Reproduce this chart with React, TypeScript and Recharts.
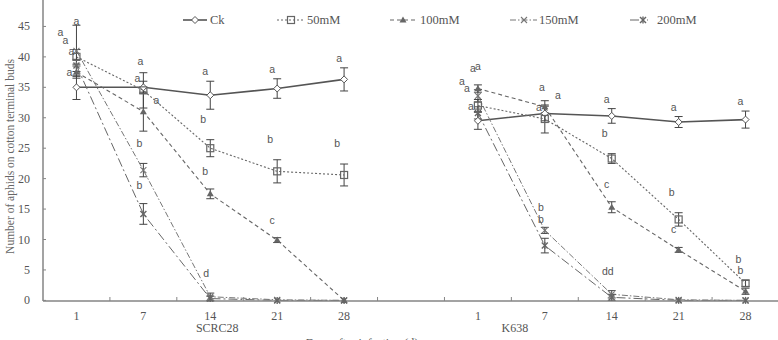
import React from "react";
import {
  ComposedChart,
  ErrorBar,
  LabelList,
  Line,
  XAxis,
  YAxis,
} from "recharts";

// x categories: two cultivars, 5 sampling days each, with an empty slot between
const days = ["1", "7", "14", "21", "28", "", "1", "7", "14", "21", "28"];
const cultivars = ["SCRC28", "K638"];
const countTicks = [0, 5, 10, 15, 20, 25, 30, 35, 40, 45, 50];

const ck = [35, 35, 33.7, 34.8, 36.3, null, 29.5, 30.7, 30.3, 29.3, 29.7];
const ckErr = [2, 1, 2.3, 1.6, 1.9, null, 1.4, 1.2, 1.2, 0.9, 1.4];
const ckSig = ["a", "a", "a", "a", "a", "", "a", "a", "a", "a", "a"];

const mM50 = [40, 34.5, 25, 21.2, 20.6, null, 32, 29.8, 23.3, 13.3, 2.8];
const mM50Err = [1.2, 2.9, 1.4, 1.9, 1.8, null, 1, 2.3, 0.8, 1.1, 0.5];
const mM50Sig = ["a", "a", "b", "b", "b", "", "a", "a", "b", "b", "b"];

const mM100 = [37.5, 31, 17.5, 9.9, 0, null, 34.8, 31.8, 15.3, 8.3, 1.5];
const mM100Err = [1, 3.2, 0.8, 0.4, null, null, 0.6, 1, 0.9, 0.4, 0.5];
const mM100Sig = ["a", "a", "b", "c", "", "", "a", "a", "c", "c", "b"];

const mM150 = [41, 21.4, 0.6, 0.1, 0, null, 33.6, 11.5, 1, 0.1, 0];
const mM150Err = [4.2, 1.1, 0.6, null, null, null, 1, 0.5, 0.6, null, null];
const mM150Sig = ["a", "b", "d", "", "", "", "a", "b", "dd", "", ""];

const mM200 = [38.6, 14.2, 0.3, 0, 0, null, 30.8, 9, 0.5, 0, 0];
const mM200Err = [1, 1.7, 0.4, null, null, null, 1, 1.2, 0.5, null, null];
const mM200Sig = ["a", "b", "", "", "", "", "a", "b", "", "", ""];

const data = days.map((day, i) => ({
  slot: `s${i}`,
  day,
  ck: ck[i],
  ckErr: ckErr[i],
  ckSig: ckSig[i],
  mM50: mM50[i],
  mM50Err: mM50Err[i],
  mM50Sig: mM50Sig[i],
  mM100: mM100[i],
  mM100Err: mM100Err[i],
  mM100Sig: mM100Sig[i],
  mM150: mM150[i],
  mM150Err: mM150Err[i],
  mM150Sig: mM150Sig[i],
  mM200: mM200[i],
  mM200Err: mM200Err[i],
  mM200Sig: mM200Sig[i],
}));

type Shape = "diamond" | "square" | "triangle" | "cross" | "star";
type Offset = [number, number];

// sig: letter offset [dx, gap above the error bar]
// day1 / day7: letter offset from the point itself on the crowded days
const series: {
  key: string;
  name: string;
  shape: Shape;
  dash?: string;
  width: number;
  color: string;
  errs: (number | null)[];
  sig: Offset;
  day1: Offset;
  day7?: Offset;
}[] = [
  { key: "ck", name: "Ck", shape: "diamond", width: 1.6, color: "#555", errs: ckErr, sig: [-5, 10], day1: [-7, -11], day7: [-3, -22] },
  { key: "mM50", name: "50mM", shape: "square", dash: "2 2", width: 1.1, color: "#666", errs: mM50Err, sig: [-7, 21], day1: [-16, -21], day7: [-6, -8] },
  { key: "mM100", name: "100mM", shape: "triangle", dash: "4 3", width: 1.1, color: "#666", errs: mM100Err, sig: [-5, 18], day1: [-5, -17], day7: [13, -8] },
  { key: "mM150", name: "150mM", shape: "cross", dash: "6 2 1.5 2", width: 1, color: "#777", errs: mM150Err, sig: [-4, 20], day1: [0, -26] },
  { key: "mM200", name: "200mM", shape: "star", dash: "9 3 2 3", width: 1, color: "#666", errs: mM200Err, sig: [-4, 19], day1: [-11, -21] },
];

const W = 790;
const H = 370;
const M = { top: 16, right: 11, bottom: 0, left: 0 };
const Y_W = 43;
const X_H = 49;
const PLOT_W = W - M.left - M.right - Y_W;
const PLOT_H = H - M.top - M.bottom - X_H;
const BAND = PLOT_W / days.length;
const PPU = PLOT_H / 50;

const AXIS = "#858585";
const TEXT = "#555";
const SERIF = "'Liberation Serif', 'Times New Roman', serif";
const SANS = "'Liberation Sans', Arial, sans-serif";

function Marker({ shape, cx, cy, color }: { shape: Shape; cx: number; cy: number; color: string }) {
  const r = 3.5;
  switch (shape) {
    case "diamond":
      return (
        <path
          d={`M${cx},${cy - r}L${cx + r},${cy}L${cx},${cy + r}L${cx - r},${cy}Z`}
          fill="#fff"
          stroke={color}
          strokeWidth={1}
        />
      );
    case "square":
      return (
        <rect x={cx - r} y={cy - r} width={r * 2} height={r * 2} fill="none" stroke={color} strokeWidth={1.2} />
      );
    case "triangle":
      return <path d={`M${cx},${cy - r}L${cx + r},${cy + 2.5}L${cx - r},${cy + 2.5}Z`} fill={color} />;
    case "cross":
      return (
        <g stroke={color} strokeWidth={1.1}>
          <line x1={cx - 3} y1={cy - 3} x2={cx + 3} y2={cy + 3} />
          <line x1={cx - 3} y1={cy + 3} x2={cx + 3} y2={cy - 3} />
        </g>
      );
    default:
      return (
        <g stroke={color} strokeWidth={1.4}>
          <line x1={cx - 3} y1={cy - 3} x2={cx + 3} y2={cy + 3} />
          <line x1={cx - 3} y1={cy + 3} x2={cx + 3} y2={cy - 3} />
          <line x1={cx} y1={cy - 3.5} x2={cx} y2={cy + 3.5} />
        </g>
      );
  }
}

function DayTick(props: any) {
  const { x, y, payload } = props;
  const i = payload.index;
  return (
    <g>
      <line x1={x + BAND / 2} x2={x + BAND / 2} y1={y} y2={y - 4} stroke={AXIS} strokeWidth={1} />
      <text x={x} y={y + 19} textAnchor="middle" fontFamily={SERIF} fontSize={12} fill={TEXT}>
        {days[i]}
      </text>
      {i === 2 && (
        <text x={x + 7} y={y + 31} textAnchor="middle" fontFamily={SERIF} fontSize={12} fill={TEXT}>
          {cultivars[0]}
        </text>
      )}
      {i === 6 && (
        <text x={x + 37} y={y + 31} textAnchor="middle" fontFamily={SERIF} fontSize={12} fill={TEXT}>
          {cultivars[1]}
        </text>
      )}
    </g>
  );
}

function CountTick(props: any) {
  const { x, y, payload } = props;
  return (
    <g>
      <line x1={x} x2={x + 3} y1={y} y2={y} stroke={AXIS} strokeWidth={1} />
      <text x={x - 13} y={y + 4} textAnchor="end" fontFamily={SERIF} fontSize={12} fill={TEXT}>
        {payload.value}
      </text>
    </g>
  );
}

// significance letters sit above the error bar, except where the points crowd
const sigLabel =
  (errs: (number | null)[], sig: Offset, day1: Offset, day7?: Offset) => (props: any) => {
    const x = props.x ?? props.viewBox?.x;
    const y = props.y ?? props.viewBox?.y;
    const { value, index } = props;
    if (!value || x == null || y == null) return null;
    const near = index === 0 || index === 6 ? day1 : (index === 1 || index === 7) && day7 ? day7 : null;
    const top = y - (errs[index] ?? 0) * PPU;
    return (
      <text
        x={near ? x + near[0] : x + sig[0]}
        y={near ? y + near[1] : top - sig[1] + 4}
        textAnchor="middle"
        fontFamily={SANS}
        fontSize={10.5}
        fill={TEXT}
        stroke="none"
      >
        {value}
      </text>
    );
  };

function LegendBar() {
  const items = [
    { x1: 183, x2: 207, mx: 195, tx: 210 },
    { x1: 277, x2: 305, mx: 291, tx: 307 },
    { x1: 390, x2: 415, mx: 403, tx: 420 },
    { x1: 510, x2: 537, mx: 524, tx: 539 },
    { x1: 630, x2: 648, mx: 643, tx: 657 },
  ];
  return (
    <svg width={778} height={34} style={{ position: "absolute", left: 0, top: 3 }}>
      {series.map((s, i) => {
        const it = items[i];
        return (
          <g key={s.key}>
            <line
              x1={it.x1}
              x2={it.x2}
              y1={17}
              y2={17}
              stroke={s.color}
              strokeWidth={s.width}
              strokeDasharray={s.dash}
            />
            <Marker shape={s.shape} cx={it.mx} cy={17} color={s.color} />
            <text x={it.tx} y={21} fontFamily={SERIF} fontSize={12.5} fill={TEXT}>
              {s.name}
            </text>
          </g>
        );
      })}
    </svg>
  );
}

export default function App() {
  return (
    <div
      style={{
        position: "absolute",
        left: 0,
        top: 0,
        width: 778,
        height: 340,
        overflow: "hidden",
        background: "#fff",
      }}
    >
      <div style={{ position: "absolute", left: 0, top: -20 }}>
        <ComposedChart width={W} height={H} data={data} margin={M}>
          <XAxis
            dataKey="slot"
            type="category"
            interval={0}
            height={X_H}
            padding={{ left: BAND / 2, right: BAND / 2 }}
            tick={<DayTick />}
            tickSize={0}
            tickMargin={0}
            tickLine={false}
            axisLine={{ stroke: AXIS, strokeWidth: 1.5 }}
            label={{
              content: (p: any) => (
                <text
                  x={p.viewBox.x + 319}
                  y={p.viewBox.y + 46}
                  textAnchor="middle"
                  fontFamily={SERIF}
                  fontSize={12}
                  fill={TEXT}
                >
                  Days after infection (d)
                </text>
              ),
            }}
          />
          <YAxis
            type="number"
            domain={[0, 50]}
            ticks={countTicks}
            interval={0}
            width={Y_W}
            tick={<CountTick />}
            tickSize={0}
            tickMargin={0}
            tickLine={false}
            axisLine={{ stroke: AXIS, strokeWidth: 1.5 }}
            label={{
              content: (p: any) => {
                const cx = p.viewBox.x + 10;
                const cy = p.viewBox.y + p.viewBox.height / 2 + 8;
                return (
                  <text
                    x={cx}
                    y={cy}
                    transform={`rotate(-90 ${cx} ${cy})`}
                    textAnchor="middle"
                    dominantBaseline="central"
                    fontFamily={SERIF}
                    fontSize={11.5}
                    fill="#666"
                  >
                    Number of aphids on cotton terminal buds
                  </text>
                );
              },
            }}
          />
          {series.map((s) => (
            <Line
              key={s.key}
              dataKey={s.key}
              name={s.name}
              type="linear"
              stroke={s.color}
              strokeWidth={s.width}
              strokeDasharray={s.dash}
              connectNulls={false}
              isAnimationActive={false}
              activeDot={false}
              dot={(p: any) =>
                p.cx == null || p.cy == null || p.value == null ? (
                  <g key={`${s.key}-${p.index}`} />
                ) : (
                  <g key={`${s.key}-${p.index}`}>
                    <Marker shape={s.shape} cx={p.cx} cy={p.cy} color={s.color} />
                  </g>
                )
              }
            >
              <ErrorBar
                dataKey={`${s.key}Err`}
                direction="y"
                width={4}
                stroke="#444"
                strokeWidth={1}
                isAnimationActive={false}
              />
              <LabelList dataKey={`${s.key}Sig`} content={sigLabel(s.errs, s.sig, s.day1, s.day7)} />
            </Line>
          ))}
        </ComposedChart>
      </div>
      <LegendBar />
    </div>
  );
}
